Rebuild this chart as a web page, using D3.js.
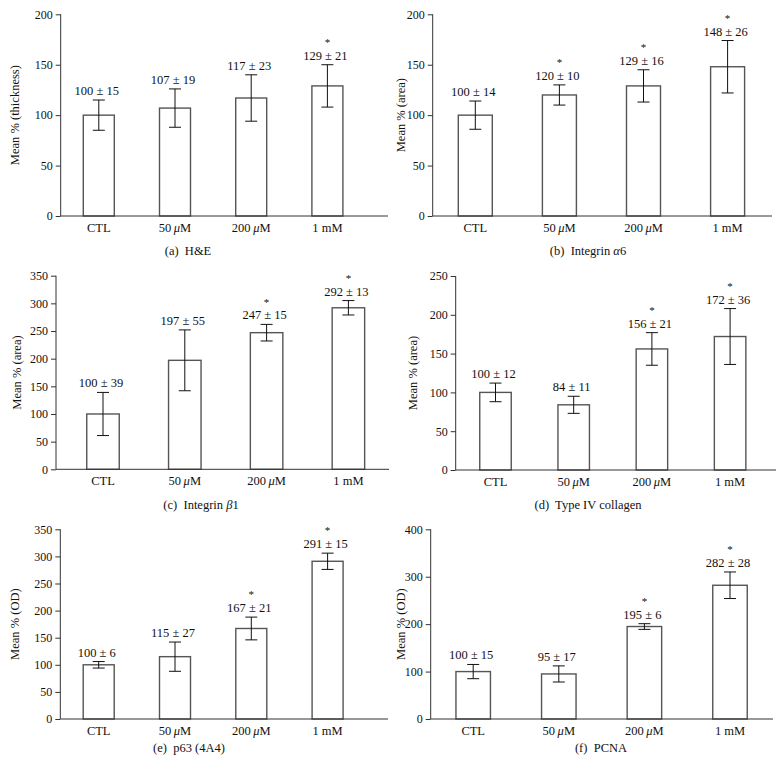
<!DOCTYPE html>
<html><head><meta charset="utf-8">
<script src="https://cdn.jsdelivr.net/npm/d3@7"></script>
<style>body{margin:0;background:#fff}svg{display:block}text{font-family:"Liberation Serif","Times New Roman",serif;fill:#111}</style>
</head><body><svg id="c" width="781" height="769"></svg>
<script>
const categories = ["CTL", "50 µM", "200 µM", "1 mM"];
const meanHE = [100, 107, 117, 129], errHE = [15, 19, 23, 21], sigHE = [0, 0, 0, 1];
const meanA6 = [100, 120, 129, 148], errA6 = [14, 10, 16, 26], sigA6 = [0, 1, 1, 1];
const meanB1 = [100, 197, 247, 292], errB1 = [39, 55, 15, 13], sigB1 = [0, 0, 1, 1];
const meanCol = [100, 84, 156, 172], errCol = [12, 11, 21, 36], sigCol = [0, 0, 1, 1];
const meanP63 = [100, 115, 167, 291], errP63 = [6, 27, 21, 15], sigP63 = [0, 0, 1, 1];
const meanPCNA = [100, 95, 195, 282], errPCNA = [15, 17, 6, 28], sigPCNA = [0, 0, 1, 1];
const yMaxes = [200, 200, 350, 250, 350, 400];
const yStepsList = [50, 50, 50, 50, 50, 100];
const yTitles = ["Mean % (thickness)", "Mean % (area)", "Mean % (area)", "Mean % (area)", "Mean % (OD)", "Mean % (OD)"];
const captions = [["(a)  H&E"], ["(b)  Integrin ", "α", "6"], ["(c)  Integrin ", "β", "1"], ["(d)  Type IV collagen"], ["(e)  p63 (4A4)"], ["(f)  PCNA"]];

const series = [
  [meanHE, errHE, sigHE], [meanA6, errA6, sigA6], [meanB1, errB1, sigB1],
  [meanCol, errCol, sigCol], [meanP63, errP63, sigP63], [meanPCNA, errPCNA, sigPCNA]
];
// layout per panel
const layout = [
  {ax: 60.7, top: 14.3, bot: 216, c0: 98.8, step: 76.2, bw: 31, end: 388, tx: 15, cx: 188, cy: 255},
  {ax: 432.7, top: 14.3, bot: 216, c0: 475.3, step: 84.1, bw: 34, end: 772, tx: 401, cx: 588, cy: 255},
  {ax: 56, top: 275.7, bot: 469.3, c0: 103, step: 81.8, bw: 32.5, end: 389, tx: 17, cx: 201, cy: 509},
  {ax: 455.7, top: 276, bot: 470, c0: 495.5, step: 78.2, bw: 31.5, end: 776, tx: 412.5, cx: 588, cy: 509},
  {ax: 60.3, top: 529.3, bot: 719, c0: 98.7, step: 76.3, bw: 31, end: 388, tx: 15, cx: 189, cy: 752},
  {ax: 430.7, top: 529.3, bot: 719, c0: 473.2, step: 85.6, bw: 34.5, end: 773, tx: 401, cx: 601, cy: 752}
];
const svg = d3.select("#c");

function catText(sel, label) {
  const parts = label.split("µ");
  if (parts.length === 1) { sel.text(label); return; }
  sel.append("tspan").text(parts[0].replace(" ", "\u2009"));
  sel.append("tspan").attr("font-style", "italic").text("μ");
  sel.append("tspan").text(parts[1]);
}

series.forEach(([means, errs, sigs], i) => {
  const L = layout[i];
  const g = svg.append("g");
  const y = d3.scaleLinear().domain([0, yMaxes[i]]).range([L.bot, L.top]);
  const x = d3.scaleBand().domain(categories)
    .range([L.c0 - L.step / 2, L.c0 - L.step / 2 + L.step * categories.length]).paddingInner(0).paddingOuter(0);
  const cx = c => x(c) + x.bandwidth() / 2;
  // y axis
  const ticks = d3.range(0, yMaxes[i] + 1, yStepsList[i]);
  const yAx = g.append("g").attr("transform", `translate(${L.ax},0)`)
    .call(d3.axisLeft(y).tickValues(ticks).tickSize(5).tickPadding(3).tickFormat(d3.format("d")));
  yAx.select(".domain").attr("stroke", "#333").attr("d", `M-0,${L.top}V${L.bot}`);
  yAx.selectAll(".tick line").attr("stroke", "#333");
  yAx.selectAll(".tick text").attr("font-size", 12).attr("font-family", "Liberation Serif, serif").attr("fill", "#111");
  // bars
  g.selectAll("rect").data(means).join("rect")
    .attr("x", (d, j) => cx(categories[j]) - L.bw / 2)
    .attr("y", d => y(d)).attr("width", L.bw).attr("height", d => L.bot - y(d))
    .attr("fill", "#fff").attr("stroke", "#555").attr("stroke-width", 1.4);
  // x axis line
  g.append("line").attr("x1", L.ax).attr("x2", L.end).attr("y1", L.bot).attr("y2", L.bot)
    .attr("stroke", "#333").attr("stroke-width", 1);
  // x labels
  categories.forEach((c, j) => {
    const t = g.append("text").attr("x", cx(c)).attr("y", L.bot + 16).attr("text-anchor", "middle").attr("font-size", 12.5);
    catText(t, c);
  });
  // error bars
  means.forEach((m, j) => {
    const xc = cx(categories[j]), e = errs[j];
    const eg = g.append("g").attr("stroke", "#111").attr("stroke-width", 1);
    eg.append("line").attr("x1", xc).attr("x2", xc).attr("y1", y(m - e)).attr("y2", y(m + e));
    eg.append("line").attr("x1", xc - 6).attr("x2", xc + 6).attr("y1", y(m - e)).attr("y2", y(m - e));
    eg.append("line").attr("x1", xc - 6).attr("x2", xc + 6).attr("y1", y(m + e)).attr("y2", y(m + e));
    const ly = y(m + e) - 5;
    g.append("text").attr("x", xc - 2).attr("y", ly).attr("text-anchor", "middle").attr("font-size", 12.5)
      .text(`${m} ± ${e}`);
    if (sigs[j]) g.append("text").attr("x", xc).attr("y", ly - 13.8).attr("text-anchor", "middle")
      .attr("font-size", 11).text("*");
  });
  // y title
  g.append("text").attr("transform", `translate(${L.tx},${(L.top + L.bot) / 2}) rotate(-90)`)
    .attr("text-anchor", "middle").attr("dy", "0.35em").attr("font-size", 12.5).text(yTitles[i]);
  // caption
  const cap = captions[i];
  const ct = g.append("text").attr("x", L.cx).attr("y", L.cy).attr("text-anchor", "middle").attr("font-size", 12.5)
    .attr("xml:space", "preserve");
  ct.append("tspan").text(cap[0]);
  if (cap.length === 3) {
    ct.append("tspan").attr("font-style", "italic").text(cap[1]);
    ct.append("tspan").text(cap[2]);
  }
});
</script></body></html>
